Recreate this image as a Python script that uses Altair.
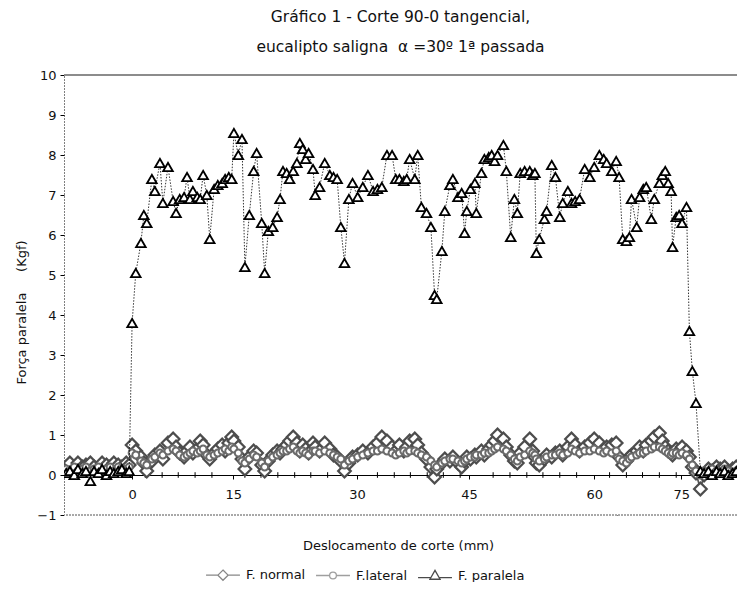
import altair as alt
import pandas as pd

# ---------------- data ----------------
x_mm = [-9.0, -8.5, -7.9, -7.4, -6.8, -6.3, -5.7, -5.2, -4.6, -4.1, -3.5, -3.0, -2.5, -1.9, -1.4, -0.8, -0.4,
        0.0, 0.5, 1.2, 1.6, 2.0, 2.7, 3.1, 3.8, 4.2, 4.9,
        5.6, 6.0, 6.5, 7.1, 7.5, 7.9, 8.3, 8.9, 9.3, 9.7,
        10.2, 10.6, 11.2, 11.7, 12.3, 12.7, 13.2, 13.6, 13.9, 14.5,
        15.0, 15.4, 16.0, 16.6, 17.0, 17.7, 18.1, 18.6, 19.2, 19.8,
        20.2, 20.6, 21.1, 21.5, 22.0, 22.5, 22.9, 23.3, 23.7, 24.1,
        24.7, 25.0, 25.6, 26.3, 27.0, 27.5, 28.0, 28.5, 29.0, 29.6,
        30.1, 30.8, 31.5, 32.2, 32.9, 33.5, 34.1, 34.8, 35.5, 36.0,
        36.5, 37.1, 37.5, 37.9, 38.6, 39.0, 39.5, 40.2, 40.8, 41.3,
        41.6, 42.3, 42.7, 43.4, 43.8, 44.5, 45.0, 45.4, 45.7, 46.2,
        46.8, 47.0, 47.7, 48.1, 48.7, 49.1, 49.5, 49.9, 50.7, 51.1,
        51.7, 52.2, 52.6, 53.0, 53.6, 54.3, 54.7, 55.0, 55.2, 55.6,
        56.3, 56.6, 57.3, 57.8, 58.4, 58.8, 59.5, 60.0, 60.5, 61.1,
        61.8, 62.5, 63.1, 63.8, 64.4, 64.8, 65.5, 66.1, 66.5, 67.0,
        67.5, 67.9, 68.2, 68.9, 69.3, 69.8, 70.2, 70.9, 71.3, 72.0,
        72.4, 72.8, 73.2, 73.6, 73.8, 74.3, 74.7, 75.1, 75.7, 76.1,
        76.5, 77.0, 77.6, 78.1, 78.7, 79.2, 79.8, 80.3, 80.9, 81.4,
        82.0, 82.5]

f_paralela = [0.05, 0.1, 0.0, 0.15, 0.05, 0.1, -0.15, 0.1, 0.05, 0.15, 0.0, 0.1, 0.05, 0.1, 0.15, 0.05, 0.1,
              3.8, 5.05, 5.8, 6.5, 6.3, 7.4, 7.1, 7.8, 6.8, 7.7,
              6.85, 6.55, 6.9, 6.95, 7.45, 6.9, 7.1, 6.95, 6.9, 7.5,
              7.0, 5.9, 7.15, 7.25, 7.3, 7.4, 7.45, 7.4, 8.55, 8.0,
              8.4, 5.2, 6.5, 7.6, 8.05, 6.3, 5.05, 6.1, 6.2, 6.45,
              6.9, 7.6, 7.55, 7.4, 7.6, 7.8, 8.3, 8.15, 7.9, 8.05,
              7.65, 7.0, 7.2, 7.8, 7.5, 7.45, 7.4, 6.2, 5.3, 6.9,
              7.3, 6.95, 7.2, 7.5, 7.1, 7.15, 7.2, 8.0, 8.0, 7.4,
              7.4, 7.35, 7.4, 7.9, 7.4, 8.0, 6.7, 6.55, 6.2, 4.5,
              4.4, 5.6, 6.6, 7.25, 7.4, 6.95, 7.05, 6.05, 6.6, 7.15,
              7.3, 6.55, 7.55, 7.9, 7.95, 8.0, 7.85, 8.0, 8.25, 7.6,
              5.95, 6.9, 6.55, 7.55, 7.6, 7.6, 7.5, 7.55, 5.55, 5.9,
              6.4, 6.6, 7.75, 7.45, 6.45, 6.8, 7.1, 6.8, 6.85, 6.9,
              7.65, 7.45, 7.7, 8.0, 7.9, 7.8, 7.6, 7.85, 7.45, 5.9,
              5.85, 5.95, 6.9, 6.2, 6.95, 7.15, 7.2, 6.4, 6.9, 7.3,
              7.5, 7.6, 7.3, 7.1, 5.7, 6.45, 6.5, 6.3, 6.7, 3.6,
              2.6, 1.8, 0.1, 0.05, 0.1, 0.0, 0.1, 0.05, 0.1, 0.0,
              0.05, 0.1]

f_normal = [0.2, 0.3, 0.15, 0.3, 0.2, 0.25, 0.3, 0.2, 0.15, 0.3, 0.25, 0.2, 0.3, 0.25, 0.2, 0.3, 0.25,
            0.75, 0.6, 0.45, 0.3, 0.1, 0.35, 0.5, 0.6, 0.4, 0.8,
            0.9, 0.7, 0.55, 0.45, 0.6, 0.7, 0.55, 0.65, 0.85, 0.75,
            0.5, 0.4, 0.55, 0.65, 0.75, 0.6, 0.8, 0.95, 0.85, 0.7,
            0.4, 0.15, 0.45, 0.6, 0.55, 0.25, 0.1, 0.35, 0.5, 0.6,
            0.55, 0.65, 0.75, 0.85, 0.95, 0.8, 0.6, 0.75, 0.65, 0.55,
            0.8, 0.7, 0.6, 0.8, 0.65, 0.5, 0.45, 0.35, 0.1, 0.3,
            0.45, 0.5, 0.6, 0.55, 0.7, 0.8, 0.95, 0.85, 0.7, 0.6,
            0.75, 0.6, 0.7, 0.85, 0.9, 0.75, 0.55, 0.4, 0.2, -0.05,
            0.15, 0.3, 0.4, 0.35, 0.45, 0.3, 0.2, 0.35, 0.45, 0.4,
            0.5, 0.45, 0.6, 0.5, 0.65, 0.75, 0.85, 1.0, 0.9, 0.7,
            0.5, 0.35, 0.3, 0.55, 0.7, 0.9, 0.6, 0.45, 0.3, 0.25,
            0.4, 0.5, 0.45, 0.55, 0.6, 0.5, 0.7, 0.9, 0.75, 0.6,
            0.7, 0.8, 0.9, 0.8, 0.65, 0.7, 0.75, 0.8, 0.45, 0.25,
            0.35, 0.45, 0.5, 0.6, 0.7, 0.6, 0.75, 0.85, 0.95, 1.05,
            0.85, 0.7, 0.6, 0.55, 0.5, 0.65, 0.6, 0.7, 0.6, 0.45,
            0.2, 0.05, -0.35, 0.0, 0.15, 0.1, 0.2, 0.15, 0.2, 0.1,
            0.15, 0.2]

f_lateral = [0.15, 0.1, 0.2, 0.1, 0.15, 0.2, 0.1, 0.15, 0.2, 0.1, 0.15, 0.2, 0.1, 0.2, 0.15, 0.1, 0.2,
             0.55, 0.5, 0.35, 0.3, 0.25, 0.4, 0.45, 0.55, 0.5, 0.6,
             0.65, 0.6, 0.5, 0.45, 0.5, 0.55, 0.6, 0.55, 0.6, 0.65,
             0.5, 0.45, 0.5, 0.55, 0.6, 0.65, 0.6, 0.7, 0.65, 0.55,
             0.35, 0.3, 0.4, 0.5, 0.45, 0.3, 0.2, 0.35, 0.45, 0.5,
             0.55, 0.6, 0.6, 0.65, 0.7, 0.6, 0.55, 0.6, 0.55, 0.5,
             0.6, 0.6, 0.55, 0.6, 0.55, 0.5, 0.45, 0.4, 0.25, 0.35,
             0.4, 0.45, 0.5, 0.55, 0.6, 0.6, 0.65, 0.6, 0.55, 0.5,
             0.55, 0.6, 0.55, 0.6, 0.6, 0.55, 0.5, 0.45, 0.35, 0.25,
             0.2, 0.3, 0.35, 0.4, 0.4, 0.35, 0.3, 0.35, 0.4, 0.45,
             0.45, 0.5, 0.5, 0.55, 0.55, 0.6, 0.65, 0.7, 0.65, 0.6,
             0.5, 0.4, 0.35, 0.45, 0.5, 0.6, 0.55, 0.5, 0.4, 0.35,
             0.4, 0.45, 0.5, 0.5, 0.55, 0.5, 0.55, 0.65, 0.6, 0.55,
             0.6, 0.6, 0.65, 0.6, 0.55, 0.6, 0.55, 0.6, 0.4, 0.35,
             0.3, 0.4, 0.45, 0.5, 0.55, 0.55, 0.6, 0.65, 0.7, 0.7,
             0.65, 0.6, 0.55, 0.5, 0.55, 0.55, 0.5, 0.55, 0.5, 0.4,
             0.25, 0.1, 0.0, 0.1, 0.05, 0.15, 0.1, 0.05, 0.15, 0.1,
             0.05, 0.1]

serie_nomes = ["F. normal", "F.lateral", "F. paralela"]
serie_cores = ["#555555", "#777777", "#000000"]

# category-axis label positions (uneven, as on the original) and their texts
tick_pos = [0, 13.8, 30.7, 46.0, 63.1, 75]
tick_rotulos = ["0", "15", "30", "45", "60", "75"]
marcas_menores = [1.8, 4.1, 6.3, 8.6, 10.9, 15.4, 17.6, 19.9, 22.2, 24.4, 26.7, 29.0,
                  33.5, 35.8, 38.0, 40.3, 42.5, 44.8, 49.3, 51.6, 53.9, 56.1, 58.4,
                  60.7, 65.2, 67.5, 69.7, 72.0, 74.3]
y_ticks = [-1, 0, 1, 2, 3, 4, 5, 6, 7, 8, 9, 10]

titulo = ["Gráfico 1 - Corte 90-0 tangencial,", "eucalipto saligna \u00a0α =30º 1ª passada"]
titulo_y = "Força paralela\u00a0\u00a0\u00a0\u00a0\u00a0(Kgf)"
titulo_x = "Deslocamento de corte (mm)"

n = len(x_mm)
for nome, lst in [("f_paralela", f_paralela), ("f_normal", f_normal), ("f_lateral", f_lateral)]:
    if len(lst) != n:
        raise ValueError(f"{nome} has {len(lst)} values, expected {n}")

df = pd.DataFrame({"x": x_mm, "normal": f_normal, "lateral": f_lateral, "paralela": f_paralela})
df_min = pd.DataFrame({"m": marcas_menores})
df_leg = pd.DataFrame({"serie": serie_nomes, "x": [0, 0, 0], "y": [-5, -5, -5]})

# ---------------- scales & axes ----------------
FONT = "DejaVu Sans"
xs = alt.Scale(domain=[-9.3, 82.6], nice=False, zero=False)
ys = alt.Scale(domain=[-1, 10], nice=False, zero=False)

label_expr = ("[" + ",".join(f"'{t}'" for t in tick_rotulos) + "][indexof(["
              + ",".join(str(v) for v in tick_pos) + "], datum.value)]")

x_axis = alt.Axis(values=tick_pos, labelExpr=label_expr, offset=-40, grid=False,
                  tickSize=4, tickColor="black", labelPadding=9, labelFontSize=13,
                  labelColor="#111", domainColor="black", domainWidth=1,
                  title=titulo_x, titleFontSize=13, titleFontWeight="normal",
                  titleColor="#111", titleX=334, titleY=64)
y_axis = alt.Axis(values=y_ticks, format="d", grid=False, tickSize=4, tickColor="black",
                  labelPadding=4, labelFontSize=13, labelColor="#111",
                  domainColor="black", domainDash=[1, 2], domainWidth=1,
                  title=titulo_y, titleFontSize=13, titleFontWeight="normal",
                  titleColor="#111", titleX=-36, titleY=237, titleAngle=270)


def X(field="x"):
    return alt.X(f"{field}:Q", scale=xs, axis=x_axis)


def Y(field):
    return alt.Y(f"{field}:Q", scale=ys, axis=y_axis)


base = alt.Chart(df)

borda_topo = base.mark_rule(color="#8c8c8c", strokeWidth=1.2).encode(
    y=alt.YDatum(10, type="quantitative", scale=ys, axis=y_axis))
borda_base = base.mark_rule(color="#a8a8a8", strokeWidth=1, strokeDash=[2, 1]).encode(
    y=alt.YDatum(-1, type="quantitative", scale=ys, axis=y_axis))
menores = alt.Chart(df_min).mark_rule(color="black", strokeWidth=1).encode(
    x=alt.X("m:Q", scale=xs, axis=x_axis),
    y=alt.YDatum(0.07, type="quantitative", scale=ys, axis=y_axis),
    y2=alt.Y2Datum(-0.07))

linha_normal = base.mark_line(color="#555555", strokeWidth=1.7, clip=True).encode(
    x=X(), y=Y("normal"))
linha_lateral = base.mark_line(color="#707070", strokeWidth=1.5, strokeDash=[2, 1], clip=True).encode(
    x=X(), y=Y("lateral"))
pts_normal = base.mark_point(shape="diamond", size=160, filled=True, fill="white", stroke="#4d4d4d",
                             strokeWidth=2.2, opacity=1, clip=True).encode(x=X(), y=Y("normal"))
pts_lateral = base.mark_point(shape="circle", size=48, filled=True, fill="white", stroke="#6a6a6a",
                              strokeWidth=2, opacity=1, clip=True).encode(x=X(), y=Y("lateral"))
linha_paralela = base.mark_line(color="black", strokeWidth=0.8, strokeDash=[1.5, 1.5], clip=True).encode(
    x=X(), y=Y("paralela"))
pts_paralela = base.mark_point(shape="triangle-up", size=90, filled=True, fill="white", stroke="black",
                               strokeWidth=1.9, opacity=1, clip=True).encode(x=X(), y=Y("paralela"))

legend_paths = [
    "M-1,0H-0.3M0.3,0H1M0,-0.3L0.3,0L0,0.3L-0.3,0Z",
    "M-1,0H-0.2M0.2,0H1M0.2,0A0.2,0.2 0 1,1 -0.2,0A0.2,0.2 0 1,1 0.2,0Z",
    "M-1,0.12H-0.27M0.27,0.12H1M0,-0.3L0.3,0.22L-0.3,0.22Z",
]
legenda = alt.Chart(df_leg).mark_point(filled=False, clip=True, strokeWidth=1.3, size=1150).encode(
    x=alt.X("x:Q", scale=xs, axis=x_axis),
    y=alt.Y("y:Q", scale=ys, axis=y_axis),
    shape=alt.Shape("serie:N", scale=alt.Scale(domain=serie_nomes, range=legend_paths),
                    legend=alt.Legend(title=None)),
    color=alt.Color("serie:N", scale=alt.Scale(domain=serie_nomes, range=serie_cores),
                    legend=alt.Legend(title=None)),
)

chart = alt.layer(
    borda_topo, borda_base, menores,
    linha_normal, linha_lateral, pts_normal, pts_lateral,
    linha_paralela, pts_paralela, legenda,
).properties(
    width=673, height=440,
    padding={"left": 56, "top": 67, "right": 0, "bottom": 67},
    autosize=alt.AutoSizeParams(type="none"),
    title=alt.Title(titulo, fontSize=15.5, font=FONT, fontWeight="normal", lineHeight=30,
                    anchor="middle", offset=14, color="#111"),
    background="white",
).configure(font=FONT).configure_view(stroke=None).configure_legend(
    orient="none", legendX=141, legendY=482, direction="horizontal",
    symbolSize=1150, symbolStrokeWidth=1.3, labelFontSize=13, labelColor="#111",
    labelOffset=5, columnPadding=7, padding=0, labelFont=FONT,
)

chart.save("out.html", embed_options={"renderer": "svg", "actions": False})
